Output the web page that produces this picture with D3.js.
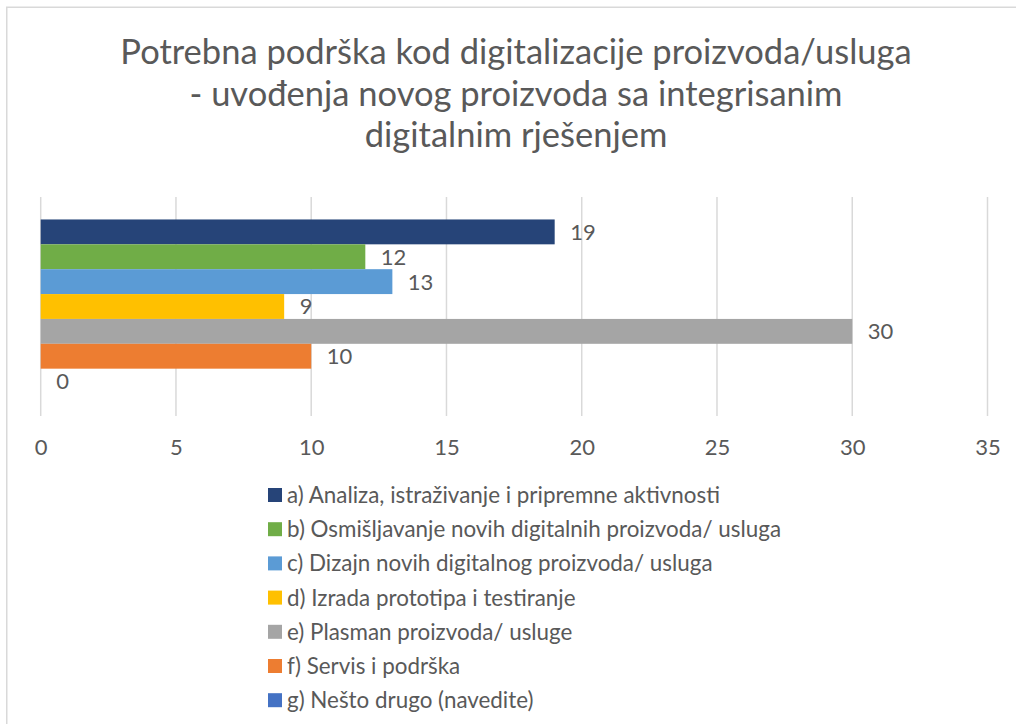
<!DOCTYPE html>
<html>
<head>
<meta charset="utf-8">
<script src="https://cdn.jsdelivr.net/npm/d3@7"></script>
<style>
  body { margin: 0; background: #fff; }
  text { font-family: Lato, "Open Sans", sans-serif; fill: #595959; }
</style>
</head>
<body>
<div id="chart"></div>
<script>
// data
var seriesNames = [
    "a) Analiza, istraživanje i pripremne aktivnosti",
    "b) Osmišljavanje novih digitalnih proizvoda/ usluga",
    "c) Dizajn novih digitalnog proizvoda/ usluga",
    "d) Izrada prototipa i testiranje",
    "e) Plasman proizvoda/ usluge",
    "f) Servis i podrška",
    "g) Nešto drugo (navedite)"
]
var values = [19, 12, 13, 9, 30, 10, 0]
var colors = ["#264478", "#70AD47", "#5B9BD5", "#FFC000", "#A5A5A5", "#ED7D31", "#4472C4"]
var xTicks = [0, 5, 10, 15, 20, 25, 30, 35]
var titleLines = [
    "Potrebna podrška kod digitalizacije proizvoda/usluga",
    "- uvođenja novog proizvoda sa integrisanim",
    "digitalnim rješenjem"
]

var W = 1016, H = 724
var plot = { left: 40.7, right: 987.5, top: 197, bottom: 416 }

var svg = d3.select("#chart").append("svg")
    .attr("width", W)
    .attr("height", H)

svg.append("rect")
    .attr("width", W).attr("height", H)
    .attr("fill", "#fff")

// chart border (only left and top visible in the crop)
svg.append("rect")
    .attr("x", 6.75).attr("y", 7.25)
    .attr("width", 1100).attr("height", 800)
    .attr("fill", "none")
    .attr("stroke", "#D9D9D9")
    .attr("stroke-width", 1.5)

// title
svg.append("text")
    .attr("x", 516)
    .attr("text-anchor", "middle")
    .style("font-size", "34.5px")
    .selectAll("tspan")
    .data(titleLines)
    .enter()
    .append("tspan")
        .attr("x", 516)
        .attr("y", function(d, i) { return 64 + i * 41.5 })
        .text(function(d) { return d })

var x = d3.scaleLinear()
    .domain([0, 35])
    .range([plot.left, plot.right])

// one category, series side by side
var outer = d3.scaleBand()
    .domain(["cat"])
    .range([plot.top, plot.bottom])
    .paddingOuter(0.129)
var y = d3.scaleBand()
    .domain(seriesNames)
    .range([outer("cat"), outer("cat") + outer.bandwidth()])

// gridlines
svg.append("g")
    .selectAll("line")
    .data(xTicks)
    .enter()
    .append("line")
        .attr("x1", function(d) { return x(d) })
        .attr("x2", function(d) { return x(d) })
        .attr("y1", plot.top)
        .attr("y2", plot.bottom)
        .attr("stroke", "#D9D9D9")
        .attr("stroke-width", 1.5)

// axis labels
var xax = svg.append("g")
    .attr("class", "xax")
    .attr("transform", "translate(0," + plot.bottom + ")")
    .call(d3.axisBottom(x).tickValues(xTicks).tickSize(0).tickPadding(23))
xax.select(".domain").remove()
xax.selectAll("text")
    .style("font-size", "22px")
    .attr("fill", "#595959")

// bars
svg.selectAll("rect.bar")
    .data(values)
    .enter()
    .append("rect")
        .attr("class", "bar")
        .attr("x", x(0))
        .attr("y", function(d, i) { return y(seriesNames[i]) })
        .attr("width", function(d) { return x(d) - x(0) })
        .attr("height", y.bandwidth())
        .attr("fill", function(d, i) { return colors[i] })

// data labels
svg.selectAll("text.lbl")
    .data(values)
    .enter()
    .append("text")
        .attr("class", "lbl")
        .attr("x", function(d) { return x(d) + 15.5 })
        .attr("y", function(d, i) { return y(seriesNames[i]) + y.bandwidth() / 2 })
        .attr("dy", "0.36em")
        .style("font-size", "22px")
        .text(function(d) { return d })

// legend
var leg = svg.append("g")
    .selectAll("g")
    .data(seriesNames)
    .enter()
    .append("g")
        .attr("transform", function(d, i) { return "translate(268," + (495 + i * 34.2) + ")" })
leg.append("rect")
    .attr("x", 0).attr("y", -7)
    .attr("width", 14).attr("height", 14)
    .attr("fill", function(d, i) { return colors[i] })
leg.append("text")
    .attr("x", 19)
    .attr("dy", "0.36em")
    .style("font-size", "22.4px")
    .text(function(d) { return d })
</script>
</body>
</html>
